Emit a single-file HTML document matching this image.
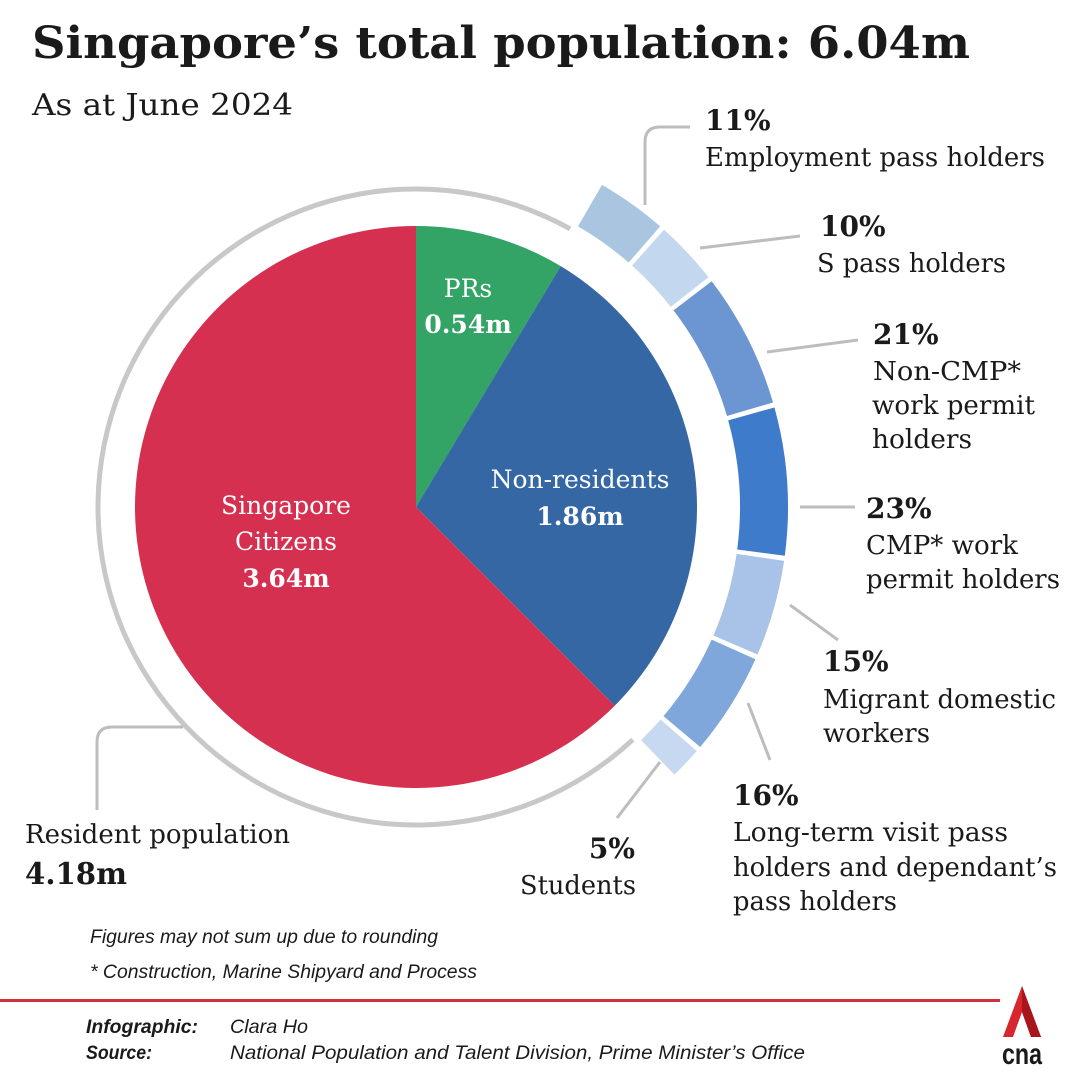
<!DOCTYPE html>
<html><head><meta charset="utf-8"><style>
html,body{margin:0;padding:0;background:#fff}
svg{display:block}
text{font-family:"DejaVu Serif","Liberation Serif",serif;fill:#1a1a1a}
.b{font-weight:bold}
.w{fill:#fff}
.it{font-family:"Liberation Sans Narrow","Liberation Sans",sans-serif;font-style:italic}
</style></head><body>
<svg width="1080" height="1080" viewBox="0 0 1080 1080" xmlns="http://www.w3.org/2000/svg">
<g id="g"></g>
<text x="32" y="58" class="b" font-size="44" textLength="938" lengthAdjust="spacingAndGlyphs">Singapore’s total population: 6.04m</text>
<text x="32" y="115" font-size="30" textLength="261" lengthAdjust="spacingAndGlyphs">As at June 2024</text>

<g stroke="#bdbdbd" stroke-width="3" fill="none">
<path d="M645,205 V142 Q645,127 660,127 H690"/>
<path d="M700,248 L800,236"/>
<path d="M767,352 L858,340"/>
<path d="M800,507 L855,507"/>
<path d="M790,605 L838,640"/>
<path d="M748,703 L770,760"/>
<path d="M660,762 L617,818"/>
<path d="M183,727 H112 Q97,727 97,742 V810"/>
</g>

<g font-size="26">
<text x="705" y="130" class="b" font-size="28">11%</text>
<text x="705" y="166" textLength="340" lengthAdjust="spacingAndGlyphs">Employment pass holders</text>
<text x="820" y="236" class="b" font-size="28">10%</text>
<text x="817" y="272" textLength="189" lengthAdjust="spacingAndGlyphs">S pass holders</text>
<text x="873" y="344" class="b" font-size="28">21%</text>
<text x="873" y="380" textLength="148" lengthAdjust="spacingAndGlyphs">Non-CMP*</text>
<text x="872" y="414" textLength="163" lengthAdjust="spacingAndGlyphs">work permit</text>
<text x="872" y="448" textLength="100" lengthAdjust="spacingAndGlyphs">holders</text>
<text x="866" y="518" class="b" font-size="28">23%</text>
<text x="866" y="554" textLength="152" lengthAdjust="spacingAndGlyphs">CMP* work</text>
<text x="866" y="588" textLength="194" lengthAdjust="spacingAndGlyphs">permit holders</text>
<text x="823" y="671" class="b" font-size="28">15%</text>
<text x="823" y="708" textLength="233" lengthAdjust="spacingAndGlyphs">Migrant domestic</text>
<text x="823" y="742" textLength="107" lengthAdjust="spacingAndGlyphs">workers</text>
<text x="733" y="805" class="b" font-size="28">16%</text>
<text x="733" y="841" textLength="275" lengthAdjust="spacingAndGlyphs">Long-term visit pass</text>
<text x="733" y="876" textLength="324" lengthAdjust="spacingAndGlyphs">holders and dependant’s</text>
<text x="733" y="910" textLength="164" lengthAdjust="spacingAndGlyphs">pass holders</text>
<text x="635" y="858" class="b" font-size="28" text-anchor="end">5%</text>
<text x="520" y="894" textLength="116" lengthAdjust="spacingAndGlyphs">Students</text>
<text x="25" y="843" textLength="265" lengthAdjust="spacingAndGlyphs">Resident population</text>
<text x="25" y="884" class="b" font-size="30" textLength="102" lengthAdjust="spacingAndGlyphs">4.18m</text>
</g>

<g font-size="25" text-anchor="middle">
<text x="468" y="297" class="w">PRs</text>
<text x="468" y="333" class="w b">0.54m</text>
<text x="580" y="488" class="w">Non-residents</text>
<text x="580" y="525" class="w b">1.86m</text>
<text x="286" y="514" class="w">Singapore</text>
<text x="286" y="550" class="w">Citizens</text>
<text x="286" y="587" class="w b">3.64m</text>
</g>

<text x="90" y="943" class="it" font-size="19" textLength="348" lengthAdjust="spacingAndGlyphs">Figures may not sum up due to rounding</text>
<text x="90" y="978" class="it" font-size="19" textLength="387" lengthAdjust="spacingAndGlyphs">* Construction, Marine Shipyard and Process</text>
<rect x="0" y="999" width="1000" height="3" fill="#d0303c"/>
<text x="86" y="1033" class="it b" font-size="19" textLength="112" lengthAdjust="spacingAndGlyphs">Infographic:</text>
<text x="230" y="1033" class="it" font-size="19" textLength="78" lengthAdjust="spacingAndGlyphs">Clara Ho</text>
<text x="86" y="1059" class="it b" font-size="19" textLength="66" lengthAdjust="spacingAndGlyphs">Source:</text>
<text x="230" y="1059" class="it" font-size="19" textLength="575" lengthAdjust="spacingAndGlyphs">National Population and Talent Division, Prime Minister’s Office</text>

<polygon points="1022,986 1003,1037 1013,1037 1022,1012 1031,1037 1041,1037" fill="#d7262e"/>
<polygon points="1022,986 1022,1012 1031,1037 1041,1037" fill="#a9151c"/>
<text x="1022" y="1064" text-anchor="middle" font-weight="bold" font-size="30" style="font-family:'Liberation Sans',sans-serif" textLength="40" lengthAdjust="spacingAndGlyphs">cna</text>
</svg>
<script>
(function(){
var NS="http://www.w3.org/2000/svg",g=document.getElementById("g");
var cx=416,cy=507;
function pt(r,a){a=(a-90)*Math.PI/180;return [cx+r*Math.cos(a),cy+r*Math.sin(a)];}
function wedge(a0,a1,r,c){var p0=pt(r,a0),p1=pt(r,a1),l=(a1-a0)>180?1:0;
var e=document.createElementNS(NS,"path");e.setAttribute("d","M"+cx+","+cy+"L"+p0+"A"+r+","+r+" 0 "+l+" 1 "+p1+"Z");e.setAttribute("fill",c);g.appendChild(e);}
function arc(a0,a1,ri,ro,c){var p0=pt(ro,a0),p1=pt(ro,a1),p2=pt(ri,a1),p3=pt(ri,a0),l=(a1-a0)>180?1:0;
var e=document.createElementNS(NS,"path");e.setAttribute("d","M"+p0+"A"+ro+","+ro+" 0 "+l+" 1 "+p1+"L"+p2+"A"+ri+","+ri+" 0 "+l+" 0 "+p3+"Z");e.setAttribute("fill",c);g.appendChild(e);}
arc(137,389,315.5,320.5,"#c8c8c8");
wedge(0,31,281,"#33a366");
wedge(31,135,281,"#3467a4");
wedge(135,360,281,"#d63050");
var v=[11,10,21,23,15,16,5],c=["#a9c5e0","#c3d7ef","#6b96d2","#3e7bcb","#a8c3e7","#7fa7db","#c7d9f0"];
var a=30,gap=0.8,per=(106-6*gap)/101;
for(var i=0;i<v.length;i++){var s=v[i]*per;arc(a,a+s,324,372,c[i]);a+=s+gap;}
})();
</script>
</body></html>
